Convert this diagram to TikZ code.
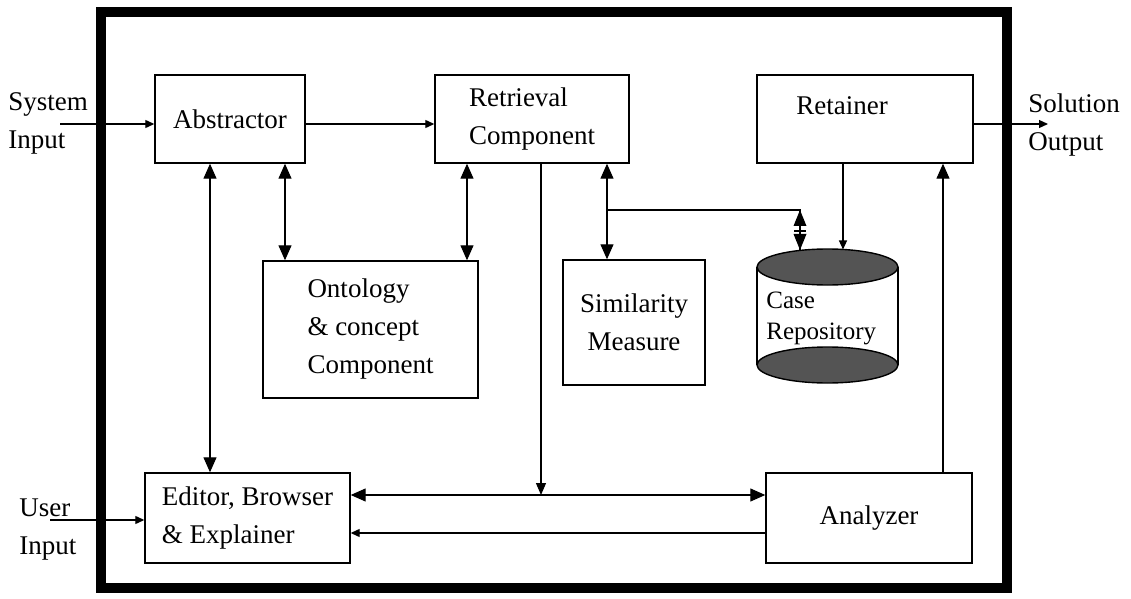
\documentclass[tikz,border=0pt]{standalone}
\usepackage{fontspec}
\setmainfont{Liberation Serif}
\usetikzlibrary{arrows.meta,calc}
\definecolor{cylfill}{gray}{0.33}
\begin{document}
\begin{tikzpicture}[x=0.5pt,y=-0.5pt,
  box/.style={draw,line width=0.7pt,inner sep=0pt},
  txt/.style={font=\fontsize{13.5}{19}\selectfont,align=left},
  conn/.style={line width=0.6pt},
  big/.style={conn,-{Triangle[length=7.5pt,width=6.5pt]}},
  dbl/.style={conn,{Triangle[length=7.5pt,width=6.5pt]}-{Triangle[length=7.5pt,width=6.5pt]}},
  small/.style={conn,-{Triangle[length=4.5pt,width=4pt]}}]
\useasboundingbox (0,0) rectangle (1131,599);
\draw[line width=5pt] (101,12) rectangle (1007,588);

% boxes
\node[box,txt,minimum width=75pt,minimum height=44pt] (abs) at (230,119) {Abstractor};
\node[box,txt,minimum width=97pt,minimum height=44pt] (retr) at (532,119) {Retrieval\\Component};
\node[box,minimum width=108pt,minimum height=44pt] (retn) at (865,119) {};
\node[txt] (retnlbl) at (842,106) {Retainer};
\node[box,txt,minimum width=107.5pt,minimum height=68.5pt] (ont) at (370.5,329.5) {Ontology\\\& concept\\Component};
\node[box,txt,align=center,minimum width=71pt,minimum height=62.5pt] (sim) at (634,322.5) {Similarity\\Measure};
\node[box,txt,minimum width=102.5pt,minimum height=45pt] (ed) at (247.5,518) {Editor, Browser\\\& Explainer};
\node[box,txt,minimum width=103pt,minimum height=45pt] (an) at (869,518) {Analyzer};

% cylinder
\draw[line width=0.7pt] (757,267) -- (757,365);
\draw[line width=0.7pt] (898,267) -- (898,365);
\draw[line width=0.7pt,fill=cylfill] (827.5,365) ellipse [x radius=70.5,y radius=18];
\draw[line width=0.7pt,fill=cylfill] (827.5,267) ellipse [x radius=70.5,y radius=18];
\node[font=\fontsize{12.5}{15.5}\selectfont,align=left,anchor=west,inner sep=0pt] (case) at (766,318) {Case\\Repository};
\coordinate (cylA) at (800,250);
\coordinate (cylB) at (843,249.5);

% outside labels
\node[txt,anchor=west,inner sep=0pt] (sysl) at (8,123) {System\\Input};
\node[txt,anchor=west,inner sep=0pt] (soll) at (1028,125) {Solution\\Output};
\node[txt,anchor=west,inner sep=0pt] (usrl) at (19,530) {User\\Input};
\coordinate (sysin) at (60,124);
\coordinate (solout) at (1048,124);
\coordinate (usrin) at (50,520);

% connectors
\draw[small] (sysin) -- (sysin -| abs.west);
\draw[small] ([yshift=-2.5pt]abs.east) -- ([yshift=-2.5pt]abs.east -| retr.west);
\draw[small] (solout -| retn.east) -- (solout);
\draw[small] (usrin) -- (usrin -| ed.west);

\draw[dbl] (abs.south -| 210,0) -- (ed.north -| 210,0);
\draw[dbl] (abs.south -| 285,0) -- (ont.north -| 285,0);
\draw[dbl] (retr.south -| 467,0) -- (ont.north -| 467,0);
\draw[dbl] (retr.south -| 607,0) -- (sim.north -| 607,0);

\coordinate (br) at (607,210);
\coordinate (brend) at (800,210);
\coordinate (brmid) at (800,231);
\draw[conn] (br) -- (brend) -- (cylA);
\fill (brend) -- ++(-6.5,16) -- ++(13,0) -- cycle;
\fill (cylA) -- ++(-6.5,-16) -- ++(13,0) -- cycle;
\draw[conn] ([xshift=-3pt]brmid) -- ([xshift=3pt]brmid);
\draw[small] (retn.south -| cylB) -- (cylB);

\coordinate (jn) at (541,495);
\draw[conn,-{Triangle[length=6pt,width=5pt]}] (retr.south -| jn) -- (jn);
\draw[dbl] (ed.east |- jn) -- (an.west |- jn);
\draw[small] (an.west |- 0,533) -- (ed.east |- 0,533);
\draw[big] (an.north -| 943,0) -- (retn.south -| 943,0);
\end{tikzpicture}
\end{document}
